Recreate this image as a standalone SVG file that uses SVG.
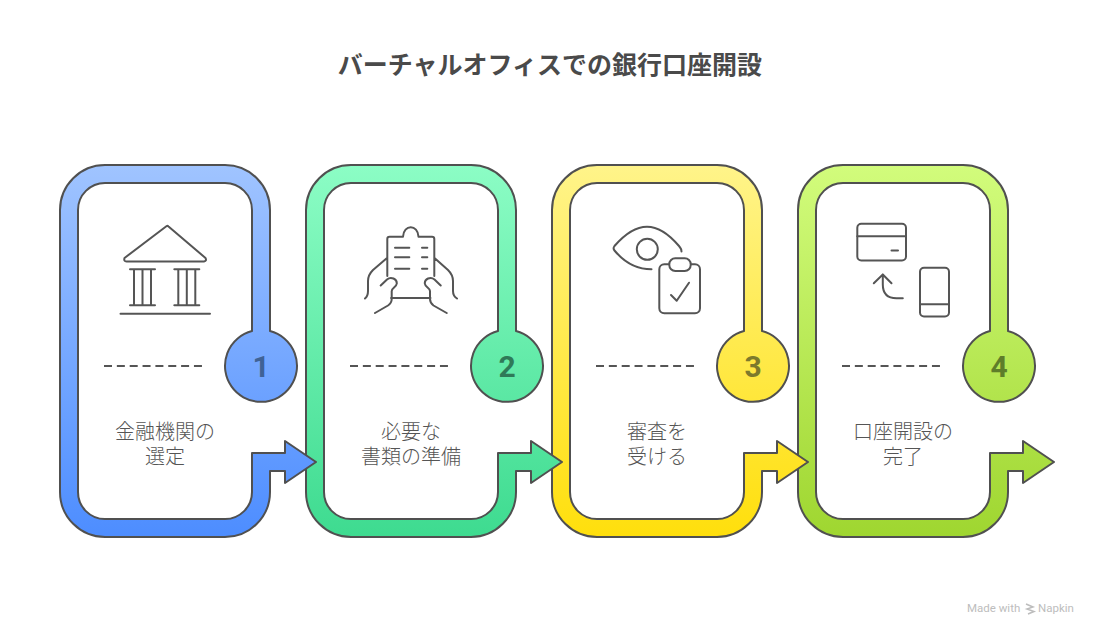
<svg xmlns="http://www.w3.org/2000/svg" width="1099" height="636" viewBox="0 0 1099 636">
<style>
.band{stroke:#505050;stroke-width:2;stroke-linejoin:round}
.ic{fill:none;stroke:#555;stroke-width:2;stroke-linecap:round;stroke-linejoin:round}
.dash{fill:none;stroke:#555;stroke-width:2;stroke-dasharray:8 4.85}
.t{font-family:"Noto Sans CJK JP","Noto Sans",sans-serif;font-size:20px;font-weight:300;fill:#555;text-anchor:middle}
.n{font-family:Roboto,"Liberation Sans",sans-serif;font-size:30px;font-weight:700;text-anchor:middle}
.b{font-family:Roboto,"Liberation Sans",sans-serif;font-size:11.500px;fill:#bdbdbd}
</style>
<defs>
<linearGradient id="g1" gradientUnits="userSpaceOnUse" x1="0" y1="165" x2="0" y2="537"><stop offset="0" stop-color="#a0c4ff"/><stop offset="1" stop-color="#4d8dff"/></linearGradient>
<linearGradient id="g2" gradientUnits="userSpaceOnUse" x1="0" y1="165" x2="0" y2="537"><stop offset="0" stop-color="#8cfdc5"/><stop offset="1" stop-color="#3edb90"/></linearGradient>
<linearGradient id="g3" gradientUnits="userSpaceOnUse" x1="0" y1="165" x2="0" y2="537"><stop offset="0" stop-color="#fff48a"/><stop offset="1" stop-color="#ffdf0c"/></linearGradient>
<linearGradient id="g4" gradientUnits="userSpaceOnUse" x1="0" y1="165" x2="0" y2="537"><stop offset="0" stop-color="#d2fc7c"/><stop offset="1" stop-color="#9fd630"/></linearGradient>
<path id="shape" d="M252 331V210A27 27 0 0 0 225 183H105A27 27 0 0 0 78 210V492A27 27 0 0 0 105 519H225A27 27 0 0 0 252 492V453H285V441L316 462L285 483V471H270V492A45 45 0 0 1 225 537H105A45 45 0 0 1 60 492V210A45 45 0 0 1 105 165H225A45 45 0 0 1 270 210V331A36 36 0 1 1 252 331Z"/>
</defs>
<rect width="1099" height="636" fill="#fff"/>
<text id="title" x="550" y="74" font-family="'Noto Sans CJK JP','Noto Sans',sans-serif" font-size="25" font-weight="700" fill="#4a4a4a" text-anchor="middle">バーチャルオフィスでの銀行口座開設</text>
<g id="connectors">
<use href="#shape" x="738" class="band" fill="url(#g4)"/>
<use href="#shape" x="492" class="band" fill="url(#g3)"/>
<use href="#shape" x="246" class="band" fill="url(#g2)"/>
<use href="#shape" class="band" fill="url(#g1)"/>
<path class="dash" d="M104 366H203M350 366H449M596 366H695M842 366H941"/>
</g>
<g id="node1">
<text class="n" x="261" y="377" fill="#3f6296">1</text>
<text class="t" x="165" y="439">金融機関の</text><text class="t" x="165" y="464">選定</text>
<path class="ic" d="M166.700 226 L124.500 258Q123.500 261.500 126.500 261.500H204Q207 261 205.500 258L168.500 226.500Q167.500 225.500 166.700 226ZM130 269.300H155M130 305.300H155M134 269.300V305.300M142.500 269.300V305.300M151 269.300V305.300M174.300 269.300H199.300M174.300 305.300H199.300M178.300 269.300V305.300M186.800 269.300V305.300M195.300 269.300V305.300M120.500 313.700H210"/>
</g>
<g id="node2">
<text class="n" x="507" y="377" fill="#2f7a58">2</text>
<text class="t" x="411" y="439">必要な</text><text class="t" x="411" y="464">書類の準備</text>
<path class="ic" d="M387.300 276V239Q387.300 236.700 389.500 236.700H403C403.500 224 418 224 418.500 236.700H432Q434.300 236.700 434.300 239V276M391 298H430.500M395 247.700H409.300M395 257.300H409.300M395 268.700H409.300M422 247.700H427.300M422 257.300H427.300M422 268.700H427.300M387 258L373 270Q368 275 368 281V291Q368 296 365 298.500M380.700 285.500L387 279.500C391 276 397 279 396.800 283.500C396.500 287 391.700 288 391.700 291V299Q391.700 303 388 305.500L375 313M434.500 258L448 270Q453 275 453 281V291Q453 296 457 298.500M440.700 285.500L434.500 279.500C430.500 276 424.500 279 424.800 283.500C425 287 430 288 430 291V299Q430 303 433.500 305.500L446.700 313"/>
</g>
<g id="node3">
<text class="n" x="753" y="377" fill="#7d7a2c">3</text>
<text class="t" x="657" y="439">審査を</text><text class="t" x="657" y="464">受ける</text>
<path class="ic" d="M681.500 251.500C681.500 248 680 248 679 246C668 233 657 226.700 647 226.700C635 226.700 624 235 614.500 246Q612.700 248.300 614.500 250.500C624 262 637 269.300 651.500 269.300"/>
<circle class="ic" cx="647.300" cy="249.300" r="10.500"/>
<rect class="ic" x="659.300" y="264.300" width="40.700" height="49" rx="5"/>
<rect class="ic" x="669.300" y="258.300" width="21.400" height="12.700" rx="6" style="fill:#fff"/>
<path class="ic" d="M671 295L676.700 300.700L689 282.700"/>
</g>
<g id="node4">
<text class="n" x="999" y="377" fill="#5e7d2a">4</text>
<text class="t" x="903" y="439">口座開設の</text><text class="t" x="903" y="464">完了</text>
<rect class="ic" x="857.300" y="223.800" width="48.700" height="36.700" rx="4"/>
<path class="ic" d="M857.300 236.200H906M891.500 250.500H898"/>
<rect class="ic" x="920" y="267.800" width="29" height="48.700" rx="4"/>
<path class="ic" d="M920 304.200H949M873.800 283.200L882.800 274.500L891.500 283.200M882.800 274.500V284.500Q882.800 298.200 896.500 298.200H902.800"/>
</g>
<g id="branding">
<text class="b" x="967" y="612">Made with</text>
<path fill="none" stroke="#bdbdbd" stroke-width="1.500" d="M1026 604L1033 607L1027 609L1034 611.500L1028 614"/>
<text class="b" x="1038" y="612">Napkin</text>
</g>
</svg>
